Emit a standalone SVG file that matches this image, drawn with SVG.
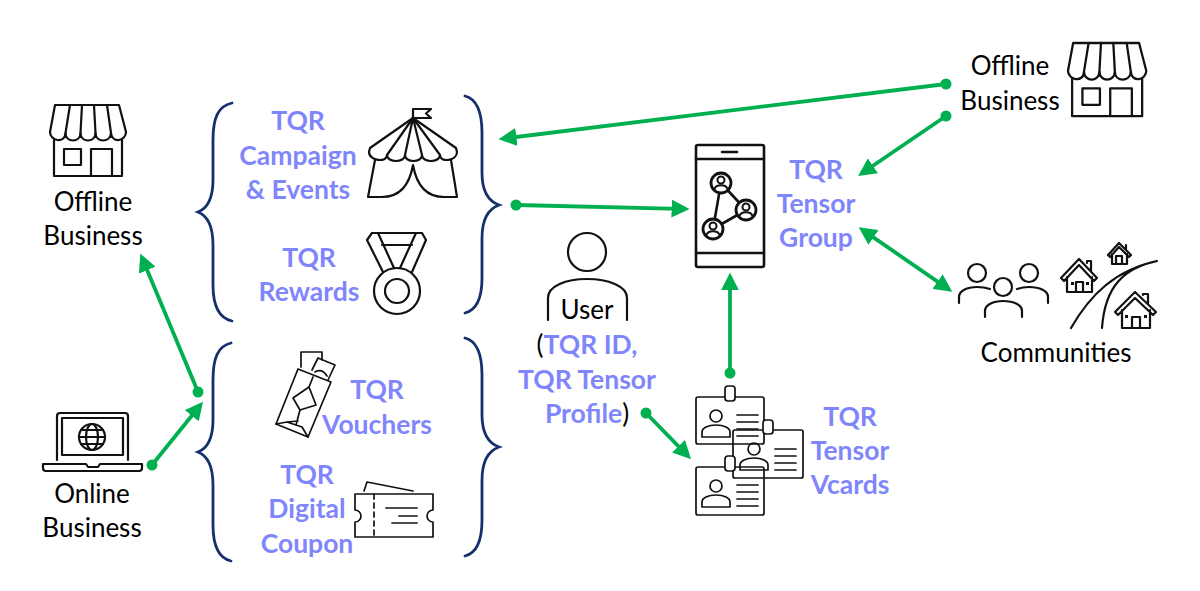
<svg xmlns="http://www.w3.org/2000/svg" width="1200" height="591" viewBox="0 0 1200 591">
<style>
text{font-family:Lato,"Open Sans","Liberation Sans",sans-serif;font-size:26px;text-anchor:middle;fill:#000}
.b{font-weight:700;font-size:26.500px;fill:#7f86fb}
.i{fill:none;stroke:#111;stroke-width:2.200;stroke-linejoin:round;stroke-linecap:round}
.t{stroke-width:1.700}
.br{fill:none;stroke:#15306a;stroke-width:2.800;stroke-linecap:round}
.c{fill:none;stroke:#00b050;stroke-width:3.800}
.d{fill:#00b050}
</style>
<defs>
<marker id="a" markerUnits="userSpaceOnUse" markerWidth="18" markerHeight="18" viewBox="0 0 15 15" refX="7" refY="7.500" orient="auto-start-reverse"><path d="M0 0L15 7.500L0 15Z" fill="#00b050"/></marker>
<g id="store" class="i"><path d="M5 0H69L76 27C76 36 62 39 61 28C60 38 46 38 45.500 28C45 38 31 38 30.500 28C30 38 16 38 15.500 28C15 39 0 36 0 27Z"/><path d="M15.500 28L20 0M30.500 28L32 0M45.500 28L44 0M61 28L57 0"/><path d="M4 35V71H72V35M14 44H31V60H14ZM41 71V44H62V71"/></g>
<g id="person" class="i t"><circle cx="0" cy="0" r="6"/><path d="M-14 21V16C-14 12 -8 9 0 9C8 9 14 12 14 16V21Z"/></g>
<path id="lines" d="M0 0H21M0 7H21M0 14H21M0 21H21"/>
<g id="mini"><circle r="10" fill="#fff" stroke="#111" stroke-width="2.800"/><circle cy="-3" r="3.500" fill="none" stroke="#111" stroke-width="2"/><path d="M-6.500 6C-5 1 5 1 6.500 6" fill="none" stroke="#111" stroke-width="2"/></g>
</defs>
<g id="connectors">
<path class="c" d="M946 84L508 138" marker-end="url(#a)"/>
<path class="c" d="M946 116L866 170.500" marker-end="url(#a)"/>
<path class="c" d="M516 205L680 208.800" marker-end="url(#a)"/>
<path class="c" d="M866.600 232.600L944.400 286.400" marker-start="url(#a)" marker-end="url(#a)"/>
<path class="c" d="M730 373V282" marker-end="url(#a)"/>
<path class="c" d="M646 413L684.400 452.300" marker-end="url(#a)"/>
<path class="c" d="M198 392L144 262.400" marker-end="url(#a)"/>
<path class="c" d="M152 465L197 409.200" marker-end="url(#a)"/>
<circle class="d" cx="946" cy="84" r="5.500"/><circle class="d" cx="946" cy="116" r="5.500"/><circle class="d" cx="516" cy="205" r="5.500"/><circle class="d" cx="730" cy="373" r="5.500"/><circle class="d" cx="646" cy="413" r="5.500"/><circle class="d" cx="198" cy="392" r="5.500"/><circle class="d" cx="152" cy="465" r="5.500"/>
</g>
<g id="offline-left"><use href="#store" x="50" y="105"/><text x="93" y="211">Offline</text><text x="93" y="245">Business</text></g>
<g id="online"><g class="i"><path d="M57 460V416Q57 413 60 413H125Q128 413 128 416V460"/><rect x="62" y="418" width="61" height="37"/><circle cx="92" cy="437" r="13"/><ellipse cx="92" cy="437" rx="6" ry="13"/><path d="M79 437H105M81 430H103M81 444H103"/><path d="M43 464H86L88 467H98L100 464H142V468Q142 471 139 471H46Q43 471 43 468Z"/></g><text x="92" y="503">Online</text><text x="92" y="537">Business</text></g>
<g id="braces">
<path class="br" d="M232 103C218 106 213 118 213 140V180C213 198 208 208 198 212C208 216 213 226 213 245V285C213 305 218 318 232 321"/>
<path class="br" d="M465 96C477 99 482 111 482 133V173C482 191 488 201 499 205C488 209 482 219 482 238V278C482 298 477 310 465 313"/>
<path class="br" d="M231 343C218 346 213 358 213 380V420C213 438 208 448 198 452C208 456 213 466 213 485V525C213 545 218 558 231 561"/>
<path class="br" d="M465 338C477 341 482 353 482 375V415C482 433 488 443 499 447C488 451 482 461 482 480V520C482 540 477 553 465 556"/>
</g>
<g id="campaign"><g class="i"><path d="M413 118V109H431L426 113.500L431 118H413"/><path d="M413 118L370 148L369 152C369 161 387 163 387 155C387 163 405 163 405 155C405 163 422 163 422 155C422 163 440 163 440 155C440 163 457 161 457 152L456 148L413 118"/><path d="M413 118L387 155M413 118L405 155M413 118L422 155M413 118L440 155"/><path d="M375 160L368 197H382C402 197 410 182 413 165C416 182 424 197 444 197H457L451 160"/></g><text class="b" x="298" y="130">TQR</text><text class="b" x="298" y="165">Campaign</text><text class="b" x="298" y="199">&amp; Events</text></g>
<g id="rewards"><g class="i"><path d="M372 233H422L426 240L412 272M372 233L367 240L383 272M378 233L394 268M416 233L400 268M382 245H412"/><circle cx="397" cy="291" r="23"/><circle cx="397" cy="291" r="12"/></g><text class="b" x="309" y="267">TQR</text><text class="b" x="309" y="301">Rewards</text></g>
<g id="vouchers"><g class="i t"><path d="M298 369L331 382L308 437L276 424Z"/><path d="M301 367V352H322V360M312 370L318 358L335 365L328 380"/><path d="M293 398L309 387L316 405L300 410Z"/><path d="M313 377L309 387M300 410L296 425M276 424L287 422L302 427L308 437M287 422L298 421"/><path d="M315 372Q322 368 327 376"/></g><text class="b" x="377" y="399">TQR</text><text class="b" x="377" y="434">Vouchers</text></g>
<g id="coupon"><g class="i t"><path d="M355 494H433V510A6 6 0 0 0 433 522V537H355V522A6 6 0 0 0 355 510Z"/><path d="M374 494V537" stroke-dasharray="5 4"/><path d="M386 508H417M399 516H417M392 523H417M364 491L367 482L413 491"/></g><text class="b" x="307" y="484">TQR</text><text class="b" x="307" y="518">Digital</text><text class="b" x="307" y="553">Coupon</text></g>
<g id="user"><g class="i"><circle cx="587" cy="252" r="19"/><path d="M548 320V298C548 286 566 279 587 279C608 279 627 286 627 298V320"/></g><text x="587" y="319">User</text><text x="587" y="354">(<tspan class="b">TQR ID,</tspan></text><text class="b" x="587" y="389">TQR Tensor</text><text x="587" y="423"><tspan class="b">Profile</tspan>)</text></g>
<g id="tensor-group"><g class="i" style="stroke-width:2.600"><rect x="696" y="145" width="68" height="122" rx="2"/><path d="M696 159H764M696 253H764M722 152H737"/><path d="M721 183L746 210L713 229Z"/></g><use href="#mini" x="721" y="183"/><use href="#mini" x="746" y="210"/><use href="#mini" x="713" y="229"/><text class="b" x="816" y="179">TQR</text><text class="b" x="816" y="213">Tensor</text><text class="b" x="816" y="247">Group</text></g>
<g id="vcards"><g class="i t"><rect x="696" y="397" width="68" height="47" rx="2"/><rect x="725" y="386" width="10" height="15" rx="3" fill="#fff"/><rect x="733" y="430" width="70" height="48" rx="2"/><rect x="763" y="420" width="10" height="14" rx="3" fill="#fff"/><rect x="696" y="467" width="68" height="48" rx="2"/><rect x="725" y="456" width="10" height="15" rx="3" fill="#fff"/></g><use href="#person" x="716" y="416"/><use href="#person" x="754" y="449"/><use href="#person" x="716" y="486"/><use href="#lines" class="i t" x="737" y="415"/><use href="#lines" class="i t" x="775" y="449"/><use href="#lines" class="i t" x="737" y="485"/><text class="b" x="850" y="426">TQR</text><text class="b" x="850" y="460">Tensor</text><text class="b" x="850" y="494">Vcards</text></g>
<g id="offline-right"><use href="#store" transform="translate(1068 43) scale(1.030)"/><text x="1010" y="75">Offline</text><text x="1010" y="110">Business</text></g>
<g id="communities"><g class="i"><circle cx="977" cy="273" r="9"/><path d="M959 303V297C959 291 967 287 977 287C983 287 987 288 990 289"/><circle cx="1029" cy="273" r="9"/><path d="M1017 289C1020 288 1024 287 1029 287C1040 287 1048 291 1048 297V303"/><circle cx="1003" cy="287" r="9"/><path d="M985 317V311C985 305 993 301 1003 301C1014 301 1022 305 1022 311V317"/><path d="M1061 278L1079 259L1097 278L1094 281L1079 265L1064 281ZM1067 277V292H1092V277M1076 292V282H1083V292M1087 263V261H1091V271"/><path d="M1108 255L1119 243L1131 255L1129 257L1119 247L1110 257ZM1112 254V264H1127V254M1116 264V256H1122V264M1126 245V250"/><path d="M1115 312L1135 292L1156 312L1153 315L1135 298L1118 315ZM1122 310V328H1150V310M1132 328V317H1140V328M1143 295V294H1148V304"/><path d="M1071 328C1090 295 1115 270 1157 261C1125 268 1105 285 1102 328"/></g><path d="M1071 282h3v3h-3zM1086 282h3v3h-3zM1125 315h3v3h-3zM1144 315h3v3h-3z" fill="#111"/></g>
<g id="communities-label"><text x="1056" y="362">Communities</text></g>
</svg>
